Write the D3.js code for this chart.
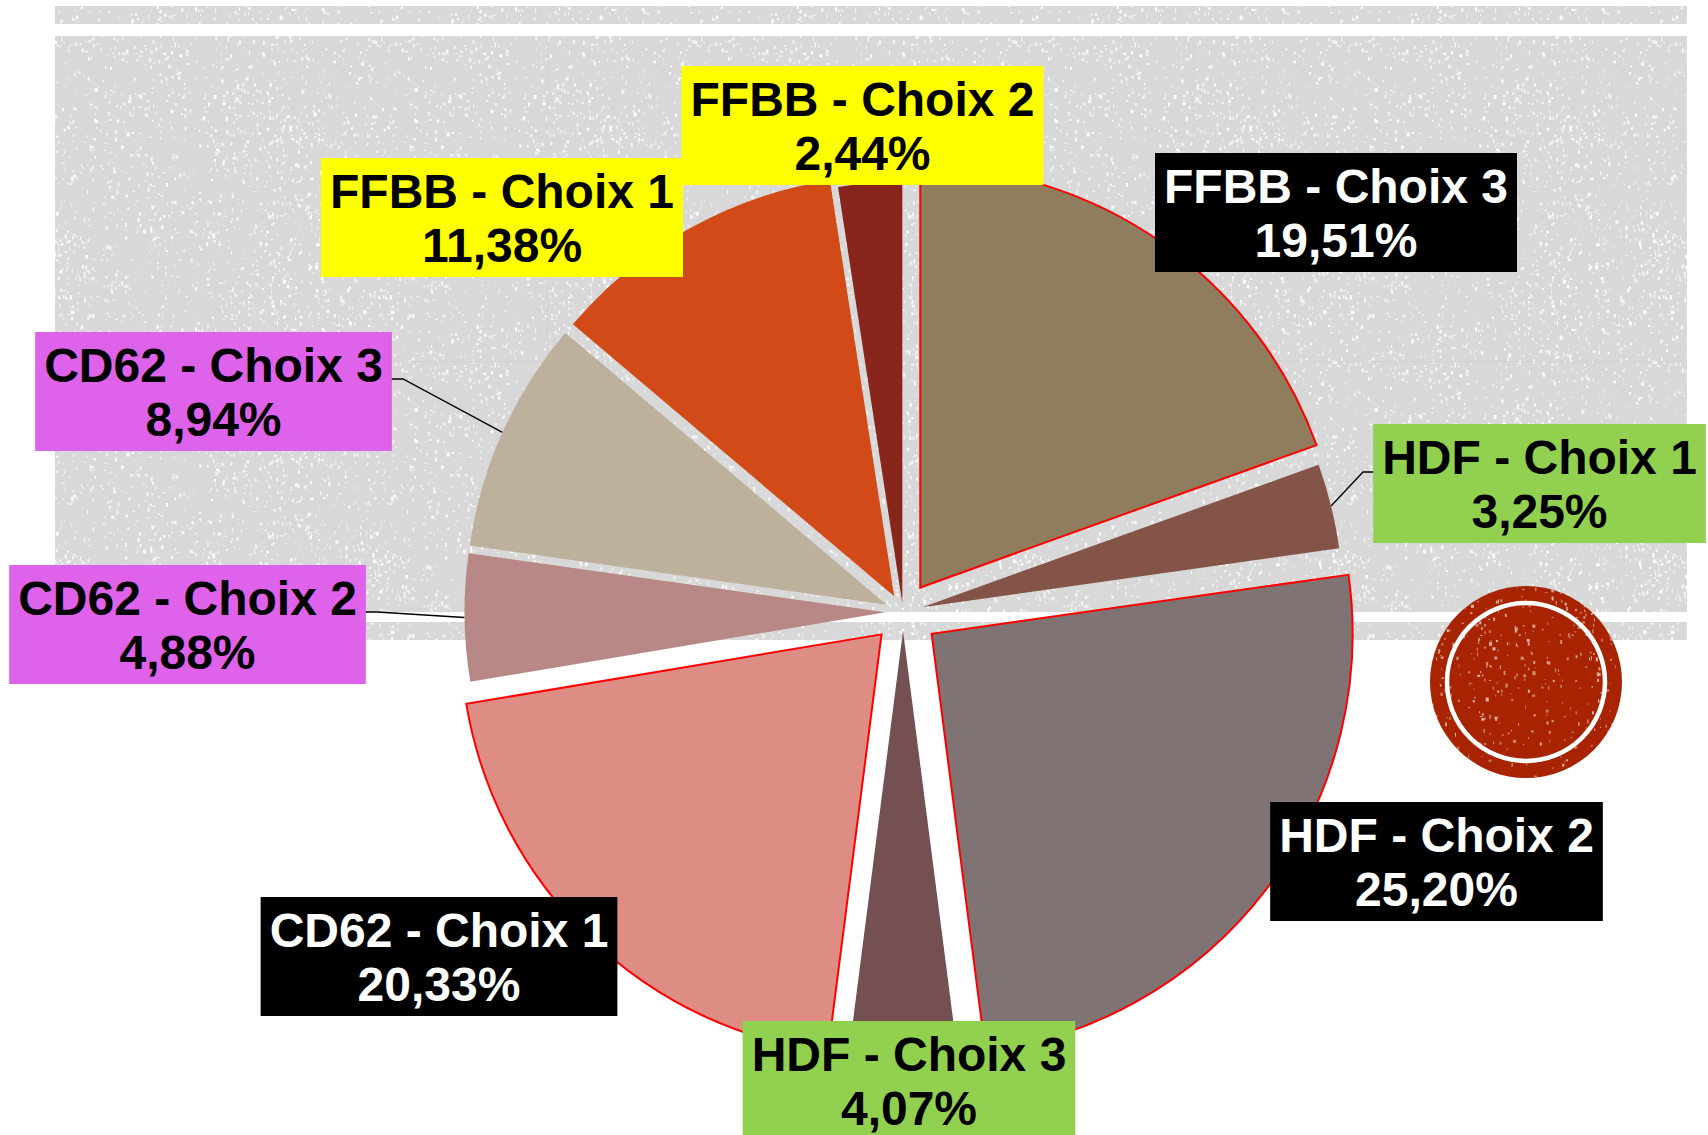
<!DOCTYPE html>
<html><head><meta charset="utf-8">
<script src="https://cdn.jsdelivr.net/npm/d3@7/dist/d3.min.js"></script>
<style>body{margin:0;background:#fff}svg{display:block}</style>
</head><body>
<svg id="chart" width="1708" height="1135"></svg>
<script>
// ---- data ----
const categories = ["FFBB - Choix 3","HDF - Choix 1","HDF - Choix 2","HDF - Choix 3","CD62 - Choix 1","CD62 - Choix 2","CD62 - Choix 3","FFBB - Choix 1","FFBB - Choix 2"];
const values = [19.51, 3.25, 25.20, 4.07, 20.33, 4.88, 8.94, 11.38, 2.44];

// ---- styles / layout ----
const sliceStyle = {
  "FFBB - Choix 3": {fill:"#8F7D5E", stroke:true,  explode:30},
  "HDF - Choix 1":  {fill:"#835447", stroke:false, explode:20},
  "HDF - Choix 2":  {fill:"#7F7373", stroke:true,  explode:36},
  "HDF - Choix 3":  {fill:"#745052", stroke:false, explode:19},
  "CD62 - Choix 1": {fill:"#DE8D85", stroke:true,  explode:31},
  "CD62 - Choix 2": {fill:"#B78885", stroke:false, explode:17.5},
  "CD62 - Choix 3": {fill:"#BDB09C", stroke:false, explode:18},
  "FFBB - Choix 1": {fill:"#D24A17", stroke:false, explode:18},
  "FFBB - Choix 2": {fill:"#88261E", stroke:false, explode:9}
};
const labelStyle = {
  "FFBB - Choix 3": {cx:1336,  top:153,  bg:"#000000", fg:"#FFFFFF"},
  "HDF - Choix 1":  {cx:1539.5,top:424,  bg:"#92D050", fg:"#000000", leader:[[1363,472],[1374,472]]},
  "HDF - Choix 2":  {cx:1436.5,top:802,  bg:"#000000", fg:"#FFFFFF"},
  "HDF - Choix 3":  {cx:909,   top:1021, bg:"#92D050", fg:"#000000"},
  "CD62 - Choix 1": {cx:439,   top:897,  bg:"#000000", fg:"#FFFFFF"},
  "CD62 - Choix 2": {cx:187.5, top:565,  bg:"#DF62EA", fg:"#000000", leader:[[377,612],[365,612]]},
  "CD62 - Choix 3": {cx:213.5, top:332,  bg:"#DF62EA", fg:"#000000", leader:[[403,379],[391,379]]},
  "FFBB - Choix 1": {cx:502,   top:158,  bg:"#FFFF00", fg:"#000000"},
  "FFBB - Choix 2": {cx:862.5, top:66,   bg:"#FFFF00", fg:"#000000"}
};
const W = 1708, H = 1135;
const center = [903, 612];
const R = 421;
const boxH = 119, fontSize = 48, padX = 9;

const svg = d3.select("#chart");
const defs = svg.append("defs");

// speckle texture (deterministic)
function mulberry32(a){return function(){a|=0;a=a+0x6D2B79F5|0;let t=Math.imul(a^a>>>15,1|a);t=t+Math.imul(t^t>>>7,61|t)^t;return((t^t>>>14)>>>0)/4294967296;}}
const rnd = mulberry32(12345);
const tile = 320;
const pat = defs.append("pattern").attr("id","speck").attr("patternUnits","userSpaceOnUse")
  .attr("width",tile).attr("height",tile);
pat.append("rect").attr("width",tile).attr("height",tile).attr("fill","#D8D8D8");
// clustered specks: pick cluster centres then scatter around them
const clusters = d3.range(40).map(() => ({x:rnd()*tile, y:rnd()*tile, s:20+rnd()*50}));
const specks = [];
d3.range(1900).forEach(i => {
  let x, y;
  if (rnd() < 0.55) { const c = clusters[Math.floor(rnd()*clusters.length)]; x = (c.x + (rnd()-0.5)*c.s*2 + tile) % tile; y = (c.y + (rnd()-0.5)*c.s*2 + tile) % tile; }
  else { x = rnd()*tile; y = rnd()*tile; }
  specks.push({x, y, w:1+Math.floor(rnd()*2.2), h:1+Math.floor(rnd()*3.5), o:0.5+rnd()*0.5});
});
pat.selectAll("rect.s").data(specks).join("rect").attr("class","s")
  .attr("x",d=>d.x).attr("y",d=>d.y).attr("width",d=>d.w).attr("height",d=>d.h)
  .attr("fill","#fff").attr("opacity",d=>d.o);

const pat2 = defs.append("pattern").attr("id","speck2").attr("patternUnits","userSpaceOnUse")
  .attr("width",tile).attr("height",tile);
pat2.selectAll("rect").data(specks.filter((d,i)=>i%2===0)).join("rect")
  .attr("x",d=>d.x).attr("y",d=>d.y).attr("width",d=>d.w).attr("height",d=>d.h)
  .attr("fill","#fff").attr("opacity",d=>d.o);

// background bands
const bands = [[55,6,1632,18],[55,36,1632,576],[55,622,1632,18]];
svg.append("g").selectAll("rect").data(bands).join("rect")
  .attr("x",d=>d[0]).attr("y",d=>d[1]).attr("width",d=>d[2]).attr("height",d=>d[3])
  .attr("fill","url(#speck)");
// faint seams in texture
const seams = svg.append("g").attr("stroke","#CDCDCD").attr("stroke-width",1).attr("opacity",0.5);
seams.append("line").attr("x1",547.5).attr("x2",547.5).attr("y1",36).attr("y2",612);
seams.append("line").attr("x1",1193.5).attr("x2",1193.5).attr("y1",36).attr("y2",612);
seams.append("line").attr("x1",55).attr("x2",1687).attr("y1",361.5).attr("y2",361.5);

// decorative circle
const dec = svg.append("g").attr("transform","translate(1526,682)");
dec.append("circle").attr("r",96).attr("fill","#A82400");
dec.append("clipPath").attr("id","cclip").append("circle").attr("r",96);
dec.append("rect").attr("x",-96).attr("y",-96).attr("width",192).attr("height",192)
  .attr("fill","url(#speck2)").attr("clip-path","url(#cclip)").attr("opacity",0.7);
dec.append("circle").attr("r",79).attr("fill","none").attr("stroke","#fff").attr("stroke-width",4.5);

// pie
const pie = d3.pie().sort(null).value(d=>d.v);
const arcs = pie(categories.map((c,i)=>({c, v:values[i]})));
const arcGen = d3.arc().innerRadius(0).outerRadius(R);
function offsetOf(a){
  const m = (a.startAngle + a.endAngle)/2;
  const e = sliceStyle[a.data.c].explode;
  return [center[0] + e*Math.sin(m), center[1] - e*Math.cos(m)];
}

// leader lines
const leaders = svg.append("g").attr("fill","none").attr("stroke","#000").attr("stroke-width",1.3);
arcs.forEach(a => {
  const ls = labelStyle[a.data.c];
  if (!ls.leader) return;
  const o = offsetOf(a);
  const m = (a.startAngle + a.endAngle)/2;
  const p0 = [o[0] + R*Math.sin(m), o[1] - R*Math.cos(m)];
  leaders.append("path").attr("d", d3.line()([p0, ...ls.leader]));
});

svg.append("g").selectAll("path").data(arcs).join("path")
  .attr("transform", d => `translate(${offsetOf(d)})`)
  .attr("d", arcGen)
  .attr("fill", d => sliceStyle[d.data.c].fill)
  .attr("stroke", d => sliceStyle[d.data.c].stroke ? "#FF0000" : "none")
  .attr("stroke-width", 2)
  .attr("stroke-linejoin","miter");

// labels
const locale = d3.formatLocale({decimal:",", thousands:" ", grouping:[3], currency:["","€"]});
const fmt = locale.format(".2f");
const lg = svg.append("g").attr("font-family","'Liberation Sans', Arial, Helvetica, sans-serif")
  .attr("font-weight","bold").attr("font-size",fontSize);
arcs.forEach(a => {
  const ls = labelStyle[a.data.c];
  const g = lg.append("g");
  const rect = g.append("rect").attr("fill", ls.bg);
  const t = g.append("text").attr("text-anchor","middle").attr("fill", ls.fg);
  t.append("tspan").attr("x", ls.cx).attr("y", ls.top + 50).text(a.data.c);
  t.append("tspan").attr("x", ls.cx).attr("y", ls.top + 104).text(fmt(a.data.v) + "%");
  const w = t.node().getBBox().width + 2*padX;
  rect.attr("x", ls.cx - w/2).attr("y", ls.top).attr("width", w).attr("height", boxH);
});
</script>
</body></html>
